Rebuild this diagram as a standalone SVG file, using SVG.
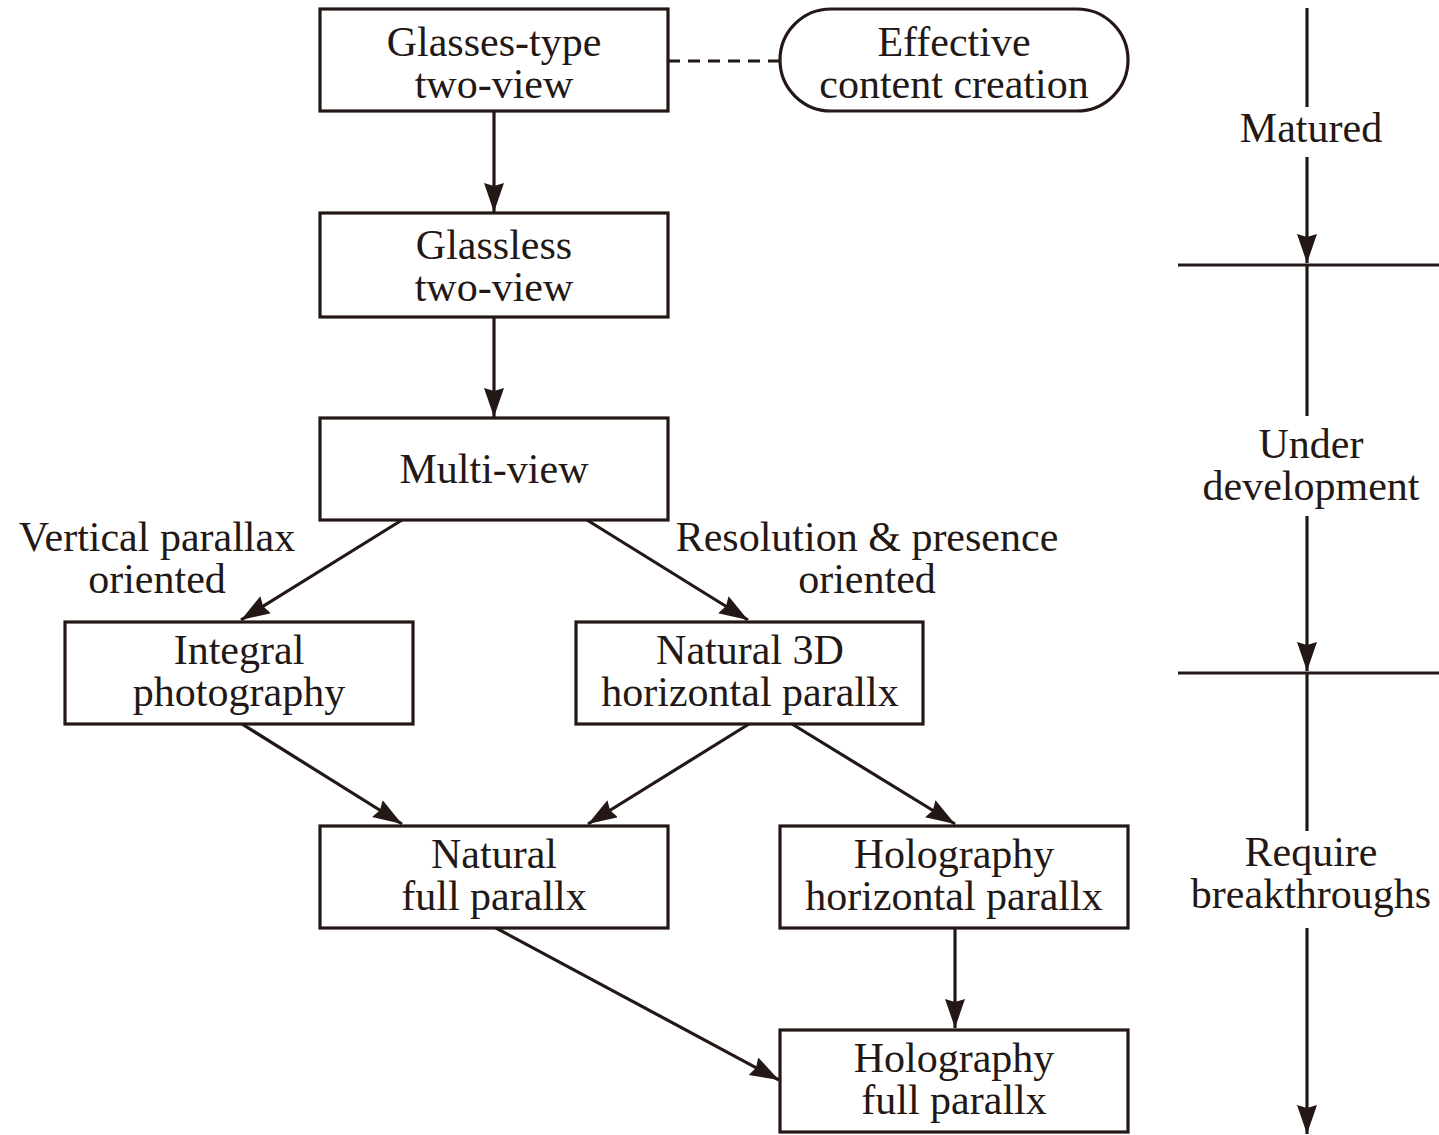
<svg xmlns="http://www.w3.org/2000/svg" width="1439" height="1135" viewBox="0 0 1439 1135">
  <style>
    .box { fill: #ffffff; stroke: #231815; stroke-width: 3.2; }
    .t { font-family: "Liberation Serif", "Times New Roman", serif; font-size: 42px; fill: #231815; text-anchor: middle; }
    .ln { stroke: #231815; stroke-width: 3.2; fill: none; }
    .arr { stroke: #231815; stroke-width: 3.2; fill: none; marker-end: url(#ah); }
  </style>
  <defs>
    <marker id="ah" markerUnits="userSpaceOnUse" markerWidth="32" markerHeight="22" refX="29" refY="10" orient="auto">
      <path d="M0,0 L29,10 L0,20 L3,10 z" fill="#231815"/>
    </marker>
  </defs>
  <rect width="1439" height="1135" fill="#ffffff"/>

  <!-- connectors -->
  <g id="connectors">
    <line class="ln" x1="668" y1="61" x2="780" y2="61" stroke-dasharray="12 8"/>
    <line class="arr" x1="494" y1="111" x2="494" y2="212"/>
    <line class="arr" x1="494" y1="317" x2="494" y2="417"/>
    <line class="arr" x1="402" y1="520" x2="241" y2="620"/>
    <line class="arr" x1="587" y1="520" x2="748" y2="620"/>
    <line class="arr" x1="242" y1="724" x2="402" y2="824"/>
    <line class="arr" x1="749" y1="724" x2="588" y2="824"/>
    <line class="arr" x1="792" y1="724" x2="955" y2="824"/>
    <line class="arr" x1="955" y1="928" x2="955" y2="1028"/>
    <line class="arr" x1="496" y1="928" x2="779" y2="1080"/>
  </g>

  <!-- nodes -->
  <g id="glasses-two-view">
    <rect class="box" x="320" y="9" width="348" height="102"/>
    <text class="t" x="494" y="56">Glasses-type</text>
    <text class="t" x="494" y="98">two-view</text>
  </g>
  <g id="content-creation">
    <rect class="box" x="780" y="9" width="348" height="102" rx="51" ry="51"/>
    <text class="t" x="954" y="56">Effective</text>
    <text class="t" x="954" y="98">content creation</text>
  </g>
  <g id="glassless-two-view">
    <rect class="box" x="320" y="213" width="348" height="104"/>
    <text class="t" x="494" y="259">Glassless</text>
    <text class="t" x="494" y="301">two-view</text>
  </g>
  <g id="multi-view">
    <rect class="box" x="320" y="418" width="348" height="102"/>
    <text class="t" x="494" y="483">Multi-view</text>
  </g>
  <g id="integral-photography">
    <rect class="box" x="65" y="622" width="348" height="102"/>
    <text class="t" x="239" y="664">Integral</text>
    <text class="t" x="239" y="706">photography</text>
  </g>
  <g id="natural-3d-horizontal">
    <rect class="box" x="576" y="622" width="347" height="102"/>
    <text class="t" x="750" y="664">Natural 3D</text>
    <text class="t" x="750" y="706">horizontal parallx</text>
  </g>
  <g id="natural-full">
    <rect class="box" x="320" y="826" width="348" height="102"/>
    <text class="t" x="494" y="868">Natural</text>
    <text class="t" x="494" y="910">full parallx</text>
  </g>
  <g id="holography-horizontal">
    <rect class="box" x="780" y="826" width="348" height="102"/>
    <text class="t" x="954" y="868">Holography</text>
    <text class="t" x="954" y="910">horizontal parallx</text>
  </g>
  <g id="holography-full">
    <rect class="box" x="780" y="1030" width="348" height="102"/>
    <text class="t" x="954" y="1072">Holography</text>
    <text class="t" x="954" y="1114">full parallx</text>
  </g>

  <!-- branch labels -->
  <g id="branch-labels">
    <text class="t" x="157" y="551">Vertical parallax</text>
    <text class="t" x="157" y="593">oriented</text>
    <text class="t" x="867" y="551">Resolution &amp; presence</text>
    <text class="t" x="867" y="593">oriented</text>
  </g>

  <!-- maturity scale -->
  <g id="maturity-scale">
    <line class="ln" x1="1307" y1="8" x2="1307" y2="107"/>
    <text class="t" x="1311" y="142">Matured</text>
    <line class="arr" x1="1307" y1="157" x2="1307" y2="263"/>
    <line class="ln" x1="1178" y1="265" x2="1439" y2="265"/>
    <line class="ln" x1="1307" y1="265" x2="1307" y2="416"/>
    <text class="t" x="1311" y="458">Under</text>
    <text class="t" x="1311" y="500">development</text>
    <line class="arr" x1="1307" y1="516" x2="1307" y2="671"/>
    <line class="ln" x1="1178" y1="673" x2="1439" y2="673"/>
    <line class="ln" x1="1307" y1="673" x2="1307" y2="831"/>
    <text class="t" x="1311" y="866">Require</text>
    <text class="t" x="1311" y="908">breakthroughs</text>
    <line class="arr" x1="1307" y1="928" x2="1307" y2="1134"/>
  </g>
</svg>
